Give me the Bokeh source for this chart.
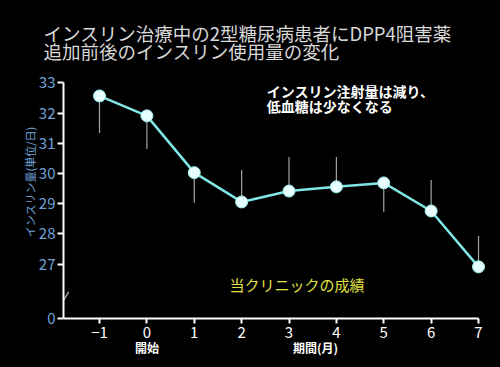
from bokeh.plotting import figure
from bokeh.models import Label, FixedTicker, Range1d, GlobalInlineStyleSheet, Title, LinearAxis
from bokeh.embed import file_html
from bokeh.resources import INLINE

# ---- data ----
months = [-1, 0, 1, 2, 3, 4, 5, 6, 7]
insulin = [32.57, 31.91, 30.03, 29.06, 29.42, 29.56, 29.69, 28.76, 26.91]
err_end = [31.34, 30.81, 29.03, 30.12, 30.55, 30.55, 28.73, 29.79, 27.93]
y_ticks = [25.2, 27, 28, 29, 30, 31, 32, 33]
y_tick_labels = {25.2: "0"}
x_tick_labels = {-1: "−1"}

title_lines = ["インスリン治療中の2型糖尿病患者にDPP4阻害薬", "追加前後のインスリン使用量の変化"]
note_lines = ["インスリン注射量は減り、", "低血糖は少なくなる"]
clinic_text = "当クリニックの成績"
y_label_pos = 29.72
y_label = "インスリン量(単位/日)"
x_sub_ticks = [0, 3.56]
x_sub_labels = {0: "開始", 3.56: "期間(月)"}

FONT = "Noto Sans CJK JP"

p = figure(width=500, height=367, output_backend="svg", toolbar_location=None, title=None,
           x_range=Range1d(-1.76, 7.253), y_range=Range1d(25.2, 33.677),
           min_border_left=63, min_border_right=10, min_border_top=62, min_border_bottom=49,
           background_fill_color="black", border_fill_color="black",
           outline_line_color=None,
           stylesheets=[GlobalInlineStyleSheet(css="html,body{background:#000;margin:0;padding:0;overflow:hidden;}")])
p.grid.visible = False

# two-line title
p.add_layout(Title(text=title_lines[0] + "\n" + title_lines[1], align="left", offset=-20, standoff=-4,
                   text_color="#d8d8d8", text_font=FONT, text_font_size="18.5px",
                   text_font_style="normal", text_line_height=0.71), "above")

# axes
xa = p.xaxis[0]
xa.ticker = FixedTicker(ticks=months)
xa.major_label_overrides = x_tick_labels
xa.bounds = (-1.76, 7)
xa.axis_line_color = "white"
xa.axis_line_width = 2
xa.major_tick_line_color = "white"
xa.major_tick_line_width = 2
xa.major_tick_out = 5
xa.major_tick_in = 0
xa.minor_tick_line_color = None
xa.major_label_text_color = "white"
xa.major_label_text_font = FONT
xa.major_label_text_font_size = "15px"
xa.major_label_standoff = 3

xsub = LinearAxis(ticker=FixedTicker(ticks=x_sub_ticks), major_label_overrides=x_sub_labels,
                  axis_line_color=None, major_tick_line_color=None, minor_tick_line_color=None,
                  major_label_text_color="white", major_label_text_font=FONT,
                  major_label_text_font_size="12px", major_label_text_font_style="bold",
                  major_label_standoff=-8)
p.add_layout(xsub, "below")

ya = p.yaxis[0]
ya.ticker = FixedTicker(ticks=y_ticks)
ya.major_label_overrides = y_tick_labels
ya.bounds = (25.2, 33)
ya.axis_line_color = "white"
ya.axis_line_width = 2
ya.major_tick_line_color = "white"
ya.major_tick_line_width = 2
ya.major_tick_out = 6
ya.major_tick_in = 0
ya.minor_tick_line_color = None
ya.major_label_text_color = "#6fa3d8"
ya.major_label_text_font = FONT
ya.major_label_text_font_size = "15px"
ya.major_label_standoff = 2

ysub = LinearAxis(ticker=FixedTicker(ticks=[y_label_pos]), major_label_overrides={y_label_pos: y_label},
                  axis_line_color=None, major_tick_line_color=None, minor_tick_line_color=None,
                  major_label_text_color="#6fa3d8", major_label_text_font=FONT,
                  major_label_text_font_size="11px", major_label_orientation="vertical",
                  major_label_standoff=-9)
p.add_layout(ysub, "left")

# axis break mark
p.segment(x0=[-1.78], y0=[25.75], x1=[-1.65], y1=[26.08], line_color="#9a9a9a", line_width=1.5)

# error bars
p.segment(x0=months, y0=insulin, x1=months, y1=err_end, line_color="#9aa8a0", line_width=1.2)
# line and markers
p.line(months, insulin, line_color="#80e6e6", line_width=2.5)
p.scatter(months, insulin, size=12, fill_color="#e8ffff", line_color="#9ff0f0", line_width=1)

def lab(x, y, text, **kw):
    p.add_layout(Label(x=x, y=y, text=text, text_font=FONT, **kw))

lab(2.53, 32.73, note_lines[0], text_color="white", text_font_size="14px", text_font_style="bold", text_baseline="middle")
lab(2.53, 32.24, note_lines[1], text_color="white", text_font_size="14px", text_font_style="bold", text_baseline="middle")
lab(1.744, 26.34, clinic_text, text_color="#e0e040", text_font_size="15px", text_baseline="middle")

open("out.html", "w").write(file_html(p, INLINE))
